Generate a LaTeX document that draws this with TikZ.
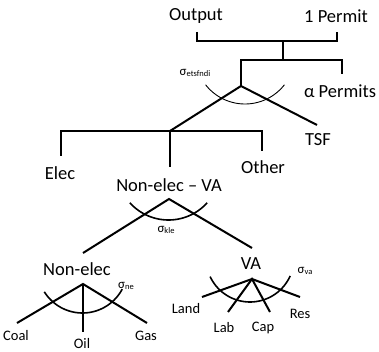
\documentclass[tikz,border=0pt]{standalone}
\usepackage{fontspec}
\setmainfont{Carlito}
\newcommand{\sigl}[1]{{\fontsize{13}{14}\selectfont σ}{\fontsize{8.5}{9}\selectfont\raisebox{-0.45ex}{#1}}}
\begin{document}
\begin{tikzpicture}[x=1pt,y=-1pt,
  big/.style={font=\fontsize{18.5}{20}\selectfont, inner sep=0pt},
  small/.style={font=\fontsize{14.5}{16}\selectfont, inner sep=0pt},
  sig/.style={inner sep=0pt},
  ln/.style={line width=2pt},
  arcthin/.style={line width=0.9pt},
  arcthick/.style={line width=1.6pt}]
\useasboundingbox (0,0) rectangle (379,352);
% junction coordinates
\coordinate (tl) at (197,32);
\coordinate (tr) at (337,32);
\coordinate (tlb) at (197,41);
\coordinate (trb) at (337,41);
\coordinate (tm) at (283,41);
\coordinate (sm) at (283,60);
\coordinate (sl) at (241,60);
\coordinate (sr) at (342,60);
\coordinate (srb) at (342,74);
\coordinate (j1) at (241,86);
\coordinate (tsf) at (317,125);
\coordinate (j2) at (170,131);
\coordinate (el) at (61,131);
\coordinate (elb) at (61,156);
\coordinate (ot) at (262,131);
\coordinate (otb) at (262,151);
\coordinate (nvb) at (170,167);
\coordinate (j3) at (169,199);
\coordinate (ne) at (83,253);
\coordinate (va) at (252,248);
\coordinate (j4) at (83,284);
\coordinate (coal) at (17,323);
\coordinate (oil) at (83,332);
\coordinate (gas) at (147,323);
\coordinate (j5) at (252,279);
\coordinate (land) at (202,297);
\coordinate (lab) at (228,312);
\coordinate (cap) at (270,312);
\coordinate (res) at (300,297);
% connectors
\draw[ln] (tl) -- (tlb) -- (trb) -- (tr);
\draw[ln] (tm) -- (sm);
\draw[ln] (j1) -- (sl) -- (sr) -- (srb);
\draw[ln] (tsf) -- (j1) -- (j2);
\draw[ln] (elb) -- (el) -- (ot) -- (otb);
\draw[ln] (j2) -- (nvb);
\draw[ln] (ne) -- (j3) -- (va);
\draw[ln] (coal) -- (j4) -- (gas);
\draw[ln] (j4) -- (oil);
\draw[ln] (land) -- (j5) -- (res);
\draw[ln] (lab) -- (j5) -- (cap);
% elasticity arcs
\draw[arcthin] plot[domain=38:142, samples=50] ({245+50*cos(\x)},{54+50*sin(\x)});
\draw[arcthick] plot[domain=42:138, samples=50] ({168.5+52*cos(\x)},{168+52*sin(\x)});
\draw[arcthick] plot[domain=28:148, samples=50] ({82.5+45*cos(\x)},{268+45*sin(\x)});
\draw[arcthick] plot[domain=24:155, samples=50] ({250+44*cos(\x)},{258+44*sin(\x)});
% labels
\node[big] (output) at (196,16) {Output};
\node[big] (permit1) at (336,16) {1 Permit};
\node[big] (apermits) at (340,91) {α Permits};
\node[big] (tsfl) at (318,140) {TSF};
\node[big] (elec) at (60,173) {Elec};
\node[big] (other) at (263,167) {Other};
\node[big] (nonelecva) at (169,185) {Non-elec – VA};
\node[big] (nonelec) at (77,269) {Non-elec};
\node[big] (val) at (251,264) {VA};
\node[small] (coall) at (16,336) {Coal};
\node[small] (oill) at (82,344) {Oil};
\node[small] (gasl) at (146,336) {Gas};
\node[small] (landl) at (186,309) {Land};
\node[small] (labl) at (224,328) {Lab};
\node[small] (capl) at (263,328) {Cap};
\node[small] (resl) at (300,314) {Res};
\node[sig] (s1) at (195,73) {\sigl{etsfndi}};
\node[sig] (s2) at (166,230) {\sigl{kle}};
\node[sig] (s3) at (126,286) {\sigl{ne}};
\node[sig] (s4) at (305,271) {\sigl{va}};
\end{tikzpicture}
\end{document}
